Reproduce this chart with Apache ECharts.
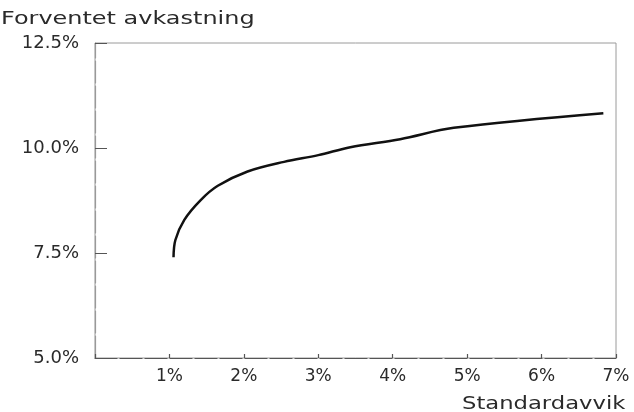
<!DOCTYPE html>
<html>
<head>
<meta charset="utf-8">
<script src="https://cdn.jsdelivr.net/npm/echarts@6/dist/echarts.min.js"></script>
<style>html,body{margin:0;padding:0;background:#fff;}#c{width:634px;height:412px;}</style>
</head>
<body>
<div id="c"></div>
<script>
const yTitle = 'Forventet avkastning';
const xTitle = 'Standardavvik';
const stdDev = [1.055, 1.08, 1.2, 1.42, 1.65, 2.05, 2.54, 3.0, 3.43, 4.1, 4.82, 6.83];
const expReturn = [7.40, 7.81, 8.29, 8.76, 9.10, 9.44, 9.67, 9.83, 10.02, 10.21, 10.48, 10.83];
const yTicks = ['5.0%', '7.5%', '10.0%', '12.5%'];

const chart = echarts.init(document.getElementById('c'), null, {renderer: 'canvas'});
const font = 'DejaVu Sans';
const textColor = '#2a2a2a';
chart.setOption({
  animation: false,
  backgroundColor: '#fff',
  grid: {left: 95, right: 18, top: 43, bottom: 54, show: true, borderColor: '#9a9a9a', borderWidth: 1},
  graphic: [
    {
      type: 'text', x: 1, y: 19, scaleX: 1.33, scaleY: 1, originX: 0, originY: 0,
      style: {text: yTitle, font: '18px "DejaVu Sans"', fill: textColor, align: 'left', verticalAlign: 'middle', textAlign: 'left', textVerticalAlign: 'middle'}
    },
    {
      type: 'text', x: 462, y: 404, scaleX: 1.26, scaleY: 1, originX: 0, originY: 0,
      style: {text: xTitle, font: '18px "DejaVu Sans"', fill: textColor, align: 'left', verticalAlign: 'middle', textAlign: 'left', textVerticalAlign: 'middle'}
    }
  ],
  xAxis: {
    type: 'value', min: 0, max: 7, interval: 1,
    axisLine: {show: true, lineStyle: {color: '#555', width: 1.2, type: [22, 3]}},
    axisTick: {show: true, inside: true, length: 4, lineStyle: {color: '#555', width: 1.2}},
    axisLabel: {
      fontFamily: font, fontSize: 17, color: textColor, margin: 10,
      formatter: v => v === 0 ? '' : v + '%'
    },
    splitLine: {show: false}
  },
  yAxis: {
    type: 'value', min: 5, max: 12.5, interval: 2.5,
    axisLine: {show: true, lineStyle: {color: '#999', width: 1.2, type: [22, 3]}},
    axisTick: {show: true, inside: true, length: 12, lineStyle: {color: '#555', width: 1}},
    axisLabel: {
      fontFamily: font, fontSize: 18, color: textColor, margin: 16,
      formatter: v => yTicks[Math.round((v - 5) / 2.5)]
    },
    splitLine: {show: false}
  },
  series: [{
    type: 'line',
    data: stdDev.map((x, i) => [x, expReturn[i]]),
    showSymbol: false,
    smooth: 0.35,
    lineStyle: {color: '#111', width: 2.5}
  }]
});
</script>
</body>
</html>
